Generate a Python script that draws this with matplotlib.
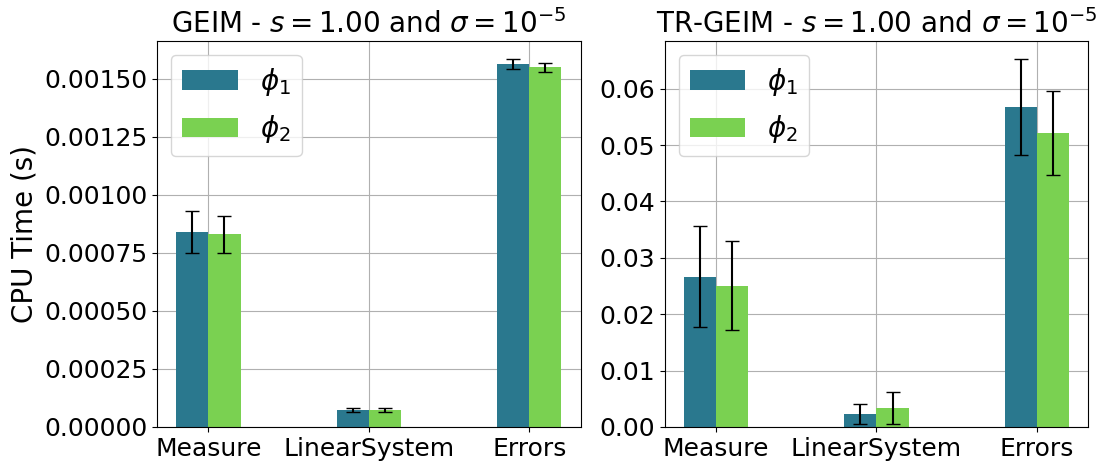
import numpy as np
import matplotlib
matplotlib.use('Agg')
import matplotlib.pyplot as plt

categories = ['Measure', 'LinearSystem', 'Errors']

geim_phi1 = [0.00084, 0.0000735, 0.001565]
geim_phi1_err = [0.00009, 0.000008, 0.00002]
geim_phi2 = [0.00083, 0.000073, 0.00155]
geim_phi2_err = [0.00008, 0.00001, 0.00002]

trgeim_phi1 = [0.02665, 0.00231, 0.0567]
trgeim_phi1_err = [0.0089, 0.0017, 0.0085]
trgeim_phi2 = [0.02505, 0.00338, 0.0521]
trgeim_phi2_err = [0.0079, 0.0028, 0.0074]

titles = [r'GEIM - $s=1.00$ and $\sigma=10^{-5}$',
          r'TR-GEIM - $s=1.00$ and $\sigma=10^{-5}$']

c1 = '#2a788e'
c2 = '#7ad151'

fig, axs = plt.subplots(1, 2, figsize=(11.06, 4.70), dpi=100)
fig.subplots_adjust(left=0.142, right=0.984, top=0.913, bottom=0.0915, wspace=0.198)

x = np.arange(len(categories))
w = 0.2
data = [(geim_phi1, geim_phi1_err, geim_phi2, geim_phi2_err),
        (trgeim_phi1, trgeim_phi1_err, trgeim_phi2, trgeim_phi2_err)]

for ax, (y1, e1, y2, e2), title in zip(axs, data, titles):
    ax.bar(x - w/2, y1, w, yerr=e1, color=c1, capsize=5, label=r'$\phi_1$', zorder=2)
    ax.bar(x + w/2, y2, w, yerr=e2, color=c2, capsize=5, label=r'$\phi_2$', zorder=2)
    ax.set_xticks(x)
    ax.set_xticklabels(categories, fontsize=18)
    ax.tick_params(axis='y', labelsize=18)
    ax.set_title(title, fontsize=20)
    ax.grid(zorder=0)
    ax.set_axisbelow(True)
    ax.legend(fontsize=20, loc='upper left', handlelength=2.0, handletextpad=0.8,
              labelspacing=0.55)

axs[0].set_ylabel('CPU Time (s)', fontsize=20)

plt.savefig('out.png')
